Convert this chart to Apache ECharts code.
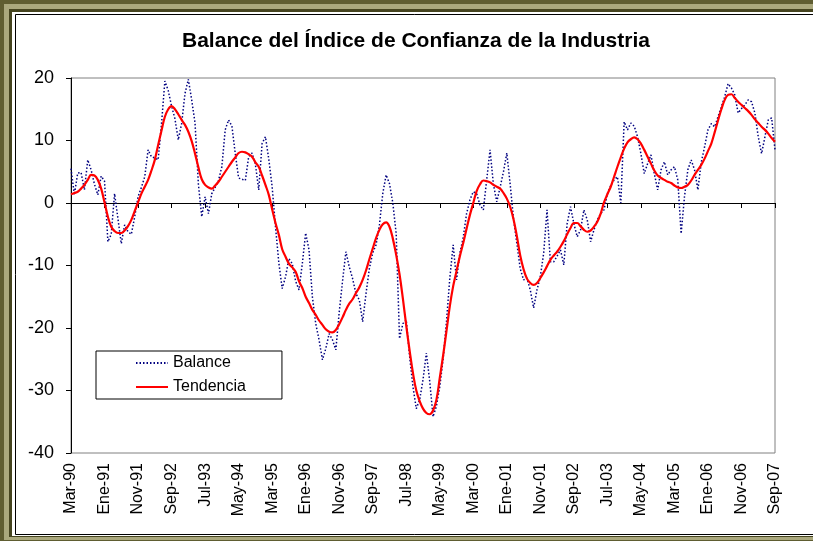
<!DOCTYPE html>
<html>
<head>
<meta charset="utf-8">
<script src="https://cdn.jsdelivr.net/npm/echarts@6/dist/echarts.min.js"></script>
<style>
  html, body { margin: 0; padding: 0; background: #fff; }
  #chart { width: 813px; height: 541px; }
</style>
</head>
<body>
<div id="chart"></div>
<script>
// meses en castellano, serie mensual desde Mar-90 hasta Sep-07
const meses = ['Ene', 'Feb', 'Mar', 'Abr', 'May', 'Jun', 'Jul', 'Ago', 'Sep', 'Oct', 'Nov', 'Dic'];
const mesInicio = 2;
const anioInicio = 1990;
const numMeses = 211;

const fechas = [];
for (let k = 0; k < numMeses; k++) {
    const m = (mesInicio + k) % 12;
    const a = anioInicio + Math.floor((mesInicio + k) / 12);
    fechas.push(meses[m] + '-' + String(a).slice(2));
}

// Balance (linea punteada)
const balance = [
    5.5, 1.3, 4.8, 4.9, 2.1, 6.9, 5.3, 3.0, 1.3, 4.3,
    3.5, -6.2, -5.0, 1.5, -2.5, -6.5, -3.5, -4.6, -5.0, -2.2,
    1.0, 2.5, 4.2, 8.5, 7.4, 7.2, 6.9, 12.7, 19.5, 18.0,
    15.5, 13.5, 10.1, 12.7, 17.5, 19.8, 16.5, 12.8, 3.0, -2.2,
    1.0, -1.7, 1.5, 2.5, 3.6, 5.8, 11.7, 13.3, 12.3, 7.9,
    4.0, 3.8, 3.6, 7.4, 8.0, 6.2, 2.1, 9.5, 10.6, 7.0,
    2.6, -3.8, -9.6, -13.7, -11.8, -8.9, -9.7, -12.5, -13.9, -9.7,
    -4.8, -7.5, -15.0, -19.3, -21.9, -25.1, -23.3, -20.9, -21.9, -23.5,
    -17.5, -12.5, -7.8, -10.2, -12.1, -14.5, -15.5, -19.0, -14.5, -10.5,
    -8.0, -6.7, -3.5, 1.5, 4.5, 3.1, 0.0, -4.9, -21.7, -19.3,
    -18.7, -24.5, -29.4, -32.9, -31.5, -28.3, -24.0, -28.5, -34.2, -32.5,
    -29.4, -25.0, -19.0, -12.0, -6.7, -12.3, -8.0, -5.5, -1.7, 0.5,
    1.8, 1.5, -0.3, -1.1, 3.7, 8.5, 3.0, 0.2, 2.5, 5.0,
    8.0, 3.0, -2.5, -6.5, -10.5, -12.3, -12.0, -13.9, -16.8, -13.9,
    -11.8, -8.0, -1.1, -9.4, -9.4, -8.5, -7.5, -9.9, -3.3, -0.6,
    -3.3, -5.4, -4.3, -1.1, -2.7, -6.2, -4.3, -2.7, -1.7, -1.1,
    1.5, 2.8, 3.7, 4.2, 0.0, 13.0, 11.7, 12.8, 12.3, 10.6,
    7.9, 4.7, 6.3, 7.7, 4.7, 2.1, 5.3, 6.6, 4.5, 5.3,
    5.8, 3.7, -4.9, 1.0, 5.3, 6.9, 5.3, 2.1, 6.5, 9.0,
    11.7, 12.7, 12.2, 13.8, 15.4, 17.0, 19.1, 18.4, 17.3, 14.4,
    15.1, 15.7, 16.5, 16.2, 14.4, 10.6, 7.9, 10.6, 13.3, 13.6,
    8.5
];

// Tendencia (linea roja)
const tendencia = [
    1.4, 1.6, 1.8, 2.3, 2.9, 3.7, 4.5, 4.4, 3.7, 2.3,
    0.1, -2.2, -3.8, -4.5, -4.8, -4.8, -4.4, -3.7, -2.7, -1.3,
    0.1, 1.5, 2.6, 3.7, 5.2, 6.9, 9.3, 11.6, 13.8, 15.0,
    15.5, 15.0, 14.2, 13.3, 12.5, 11.4, 9.9, 7.9, 5.7, 3.8,
    2.9, 2.5, 2.3, 2.8, 3.4, 4.2, 5.0, 5.8, 6.6, 7.3,
    8.0, 8.2, 8.1, 7.8, 7.4, 6.5, 5.8, 4.4, 2.9, 1.3,
    -1.0, -3.2, -5.1, -7.4, -8.6, -9.7, -10.3, -11.0, -12.5, -13.6,
    -15.0, -16.0, -17.1, -17.9, -18.8, -19.5, -20.2, -20.6, -20.7, -20.3,
    -19.4, -18.3, -17.1, -16.1, -15.4, -14.4, -13.5, -12.3, -10.8, -9.0,
    -7.3, -5.6, -4.3, -3.4, -3.1, -3.8, -5.7, -8.3, -11.4, -15.3,
    -19.6, -23.6, -27.2, -30.0, -31.7, -32.9, -33.6, -33.8, -33.2, -31.5,
    -28.0, -24.4, -20.5, -16.5, -13.3, -10.9, -8.5, -6.4, -4.1, -1.9,
    0.0, 1.9, 3.0, 3.6, 3.5, 3.3, 2.9, 2.6, 2.3, 1.6,
    0.7, -0.6, -2.6, -5.3, -8.4, -10.6, -12.1, -12.8, -13.1, -12.8,
    -12.0, -11.1, -10.1, -9.1, -8.4, -7.8, -7.0, -6.1, -5.0, -4.0,
    -3.2, -3.2, -3.7, -4.3, -4.6, -4.4, -3.8, -3.0, -1.7, 0.1,
    1.4, 2.6, 4.2, 5.8, 7.3, 8.7, 9.7, 10.2, 10.5, 10.2,
    9.5, 8.5, 7.4, 6.3, 5.2, 4.4, 4.0, 3.7, 3.4, 3.2,
    2.8, 2.5, 2.4, 2.6, 2.9, 3.6, 4.5, 5.3, 6.1, 7.1,
    8.3, 9.5, 11.3, 13.2, 15.0, 16.5, 17.3, 17.4, 16.8, 16.2,
    15.7, 15.2, 14.7, 14.1, 13.4, 12.8, 12.2, 11.7, 11.1, 10.4,
    9.8
];

const yTicks = { min: -40, max: 20, step: 10 };

const fuente = "'Liberation Sans', Arial, sans-serif";

var chartDom = document.getElementById('chart');
var myChart = echarts.init(chartDom);
var option;

option = {
    backgroundColor: '#fff',
    animation: false,
    graphic: [
        // marco exterior
        { type: 'rect', z: -10, shape: { x: 0, y: 0, width: 860, height: 560 }, style: { fill: '#5f5d31' } },
        { type: 'rect', z: -9, shape: { x: 4, y: 4, width: 860, height: 536 }, style: { fill: '#aaa87d' } },
        { type: 'rect', z: -8, shape: { x: 9, y: 9, width: 860, height: 528 }, style: { fill: '#45441f' } },
        { type: 'rect', z: -7, shape: { x: 12, y: 12, width: 860, height: 524 }, style: { fill: '#fff' } },
        { type: 'rect', z: -6, shape: { x: 15.5, y: 14.5, width: 860, height: 520 }, style: { fill: 'none', stroke: '#000', lineWidth: 1 } },
        {
            type: 'text', z: 10, x: 416, y: 41,
            style: {
                text: 'Balance del Índice de Confianza de la Industria',
                font: 'bold 21px ' + fuente,
                fill: '#000', align: 'center', verticalAlign: 'middle'
            }
        }
    ],
    legend: {
        orient: 'vertical',
        left: 96,
        top: 351,
        padding: [4, 36, 4, 39],
        itemGap: 8,
        itemWidth: 32,
        itemHeight: 16,
        backgroundColor: '#fff',
        borderColor: '#000',
        borderWidth: 1,
        borderRadius: 0,
        itemStyle: { opacity: 0 },
        textStyle: { fontSize: 16, color: '#000', fontFamily: fuente, lineHeight: 16 },
        data: ['Balance', 'Tendencia']
    },
    grid: {
        left: 71,
        right: 38,
        top: 78,
        bottom: 88,
        show: true,
        borderColor: '#808080',
        borderWidth: 1,
        backgroundColor: 'transparent'
    },
    xAxis: [
        {
            // etiquetas abajo
            type: 'category',
            data: fechas,
            boundaryGap: false,
            position: 'bottom',
            axisLine: { show: false, onZero: false },
            axisTick: { show: false },
            axisLabel: { interval: 9, rotate: 90, margin: 10, fontSize: 16, color: '#000', fontFamily: fuente },
            splitLine: { show: false }
        },
        {
            // eje en cero con marcas
            type: 'category',
            data: fechas,
            boundaryGap: false,
            position: 'top',
            axisLine: { show: true, onZero: true, lineStyle: { color: '#000', width: 1 } },
            axisTick: { show: true, inside: true, interval: 9, length: 5, lineStyle: { color: '#000' } },
            axisLabel: { show: false },
            splitLine: { show: false }
        }
    ],
    yAxis: {
        type: 'value',
        min: yTicks.min,
        max: yTicks.max,
        interval: yTicks.step,
        axisLine: { show: true, onZero: false, lineStyle: { color: '#000' } },
        axisTick: { show: true, length: 5, lineStyle: { color: '#000' } },
        axisLabel: { fontSize: 18, color: '#000', margin: 17, fontFamily: fuente },
        splitLine: { show: false }
    },
    series: [
        {
            name: 'Balance',
            type: 'line',
            xAxisIndex: 0,
            data: balance,
            symbol: 'none',
            lineStyle: { color: '#000080', width: 1.5, type: [1.5, 2] },
            itemStyle: { color: '#000080' }
        },
        {
            name: 'Tendencia',
            type: 'line',
            xAxisIndex: 0,
            data: tendencia,
            symbol: 'none',
            smooth: 0.4,
            lineStyle: { color: '#ff0000', width: 2.2 },
            itemStyle: { color: '#ff0000' }
        }
    ]
};

option && myChart.setOption(option);
</script>
</body>
</html>
